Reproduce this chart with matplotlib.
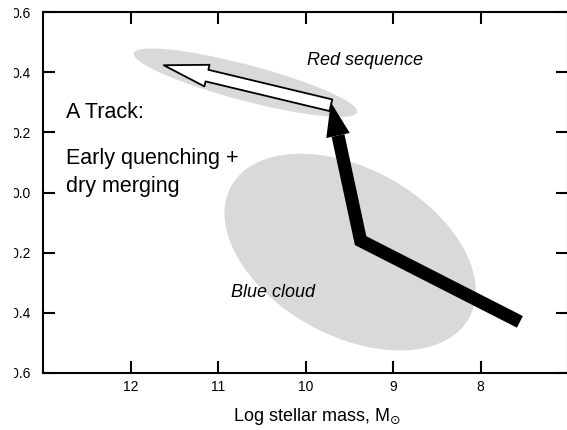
import numpy as np
import matplotlib
matplotlib.use("Agg")
import matplotlib.pyplot as plt
from matplotlib.patches import Ellipse, FancyArrowPatch, Rectangle
from matplotlib.transforms import ScaledTranslation

plt.rcParams["font.family"] = ["Liberation Sans", "DejaVu Sans"]

# --- data (log stellar mass, colour) ---
X_TICKS = [12, 11, 10, 9, 8]
Y_TICKS = [-0.6, -0.4, -0.2, 0.0, 0.2, 0.4, 0.6]

# quenching track: blue cloud -> corner -> red sequence
TRACK_MASS = [7.55, 9.37, 9.71]
TRACK_COLOR = [-0.43, -0.16, 0.30]

# dry merging along the red sequence
MERGE_MASS = [9.71, 11.62]
MERGE_COLOR = [0.29, 0.423]

# population regions (centre mass, centre colour)
RS_CENTRE = (10.686, 0.365)
BC_CENTRE = (9.49, -0.198)

DPI = 100
fig = plt.figure(figsize=(5.67, 4.30), dpi=DPI)
ax = fig.add_axes([43 / 567, 57 / 430, 525 / 567, 361 / 430])
ax.set_xlim(13, 7)
ax.set_ylim(-0.6, 0.6)

# regions: ellipses sized in inches, anchored at data centres
shade = "#d9d9d9"
for (cx, cy), w, h, ang in [(RS_CENTRE, 2.31, 0.36, -14.8),
                            (BC_CENTRE, 2.72, 1.67, -29.0)]:
    e = Ellipse((0, 0), w, h, angle=ang, facecolor=shade, edgecolor="none",
                transform=fig.dpi_scale_trans + ScaledTranslation(cx, cy, ax.transData),
                zorder=1)
    ax.add_patch(e)

# hollow arrow (dry merging)
hollow = FancyArrowPatch(
    (MERGE_MASS[0], MERGE_COLOR[0]), (MERGE_MASS[1], MERGE_COLOR[1]),
    arrowstyle="simple,head_length=32,head_width=16,tail_width=8.6",
    mutation_scale=1, shrinkA=0, shrinkB=0,
    facecolor="white", edgecolor="black", linewidth=1.3, zorder=3,
)
ax.add_patch(hollow)

# thick black track with a solid head; head built in pixel space
pts = ax.transData.transform(np.column_stack([TRACK_MASS, TRACK_COLOR]))
head_len, head_half = 34.0, 12.0
d = pts[-1] - pts[-2]
u = d / np.hypot(*d)
perp = np.array([-u[1], u[0]])
base = pts[-1] - u * head_len
inv = ax.transData.inverted()
shaft = inv.transform(np.vstack([pts[:-1], base]))
ax.plot(shaft[:, 0], shaft[:, 1], color="black", lw=9.4,
        solid_joinstyle="miter", solid_capstyle="butt", zorder=4)
head = inv.transform(np.vstack([pts[-1], base + perp * head_half,
                                base - perp * head_half]))
ax.fill(head[:, 0], head[:, 1], color="black", lw=0, zorder=4)

# labels
ax.text(9.98, 0.423, "Red sequence", fontsize=13, style="italic")
ax.text(10.85, -0.349, "Blue cloud", fontsize=13, style="italic")
ax.text(12.737, 0.246, "A Track:", fontsize=15.5)
ax.text(12.737, 0.096, "Early quenching +", fontsize=15.5)
ax.text(12.737, 0.001, "dry merging", fontsize=15.5)

ax.set_xticks(X_TICKS)
ax.set_yticks(Y_TICKS)
ax.tick_params(direction="in", length=8.4, width=1.5, top=True, right=True,
               labelsize=10, colors="black")
ax.tick_params(axis="x", pad=5)
ax.tick_params(axis="y", pad=9)
for s in ax.spines.values():
    s.set_linewidth(1.5)

ax.set_xlabel("Log stellar mass, M$_{\\odot}$", fontsize=13)
ax.xaxis.set_label_coords(0.521, -0.133)
ax.xaxis.label.set_verticalalignment("baseline")

# the source image is trimmed on the left, clipping the y tick labels
fig.add_artist(Rectangle((0, 0), 14 / 567, 1, transform=fig.transFigure,
                         facecolor="white", edgecolor="none", zorder=10))

fig.savefig("out.png", dpi=DPI)
